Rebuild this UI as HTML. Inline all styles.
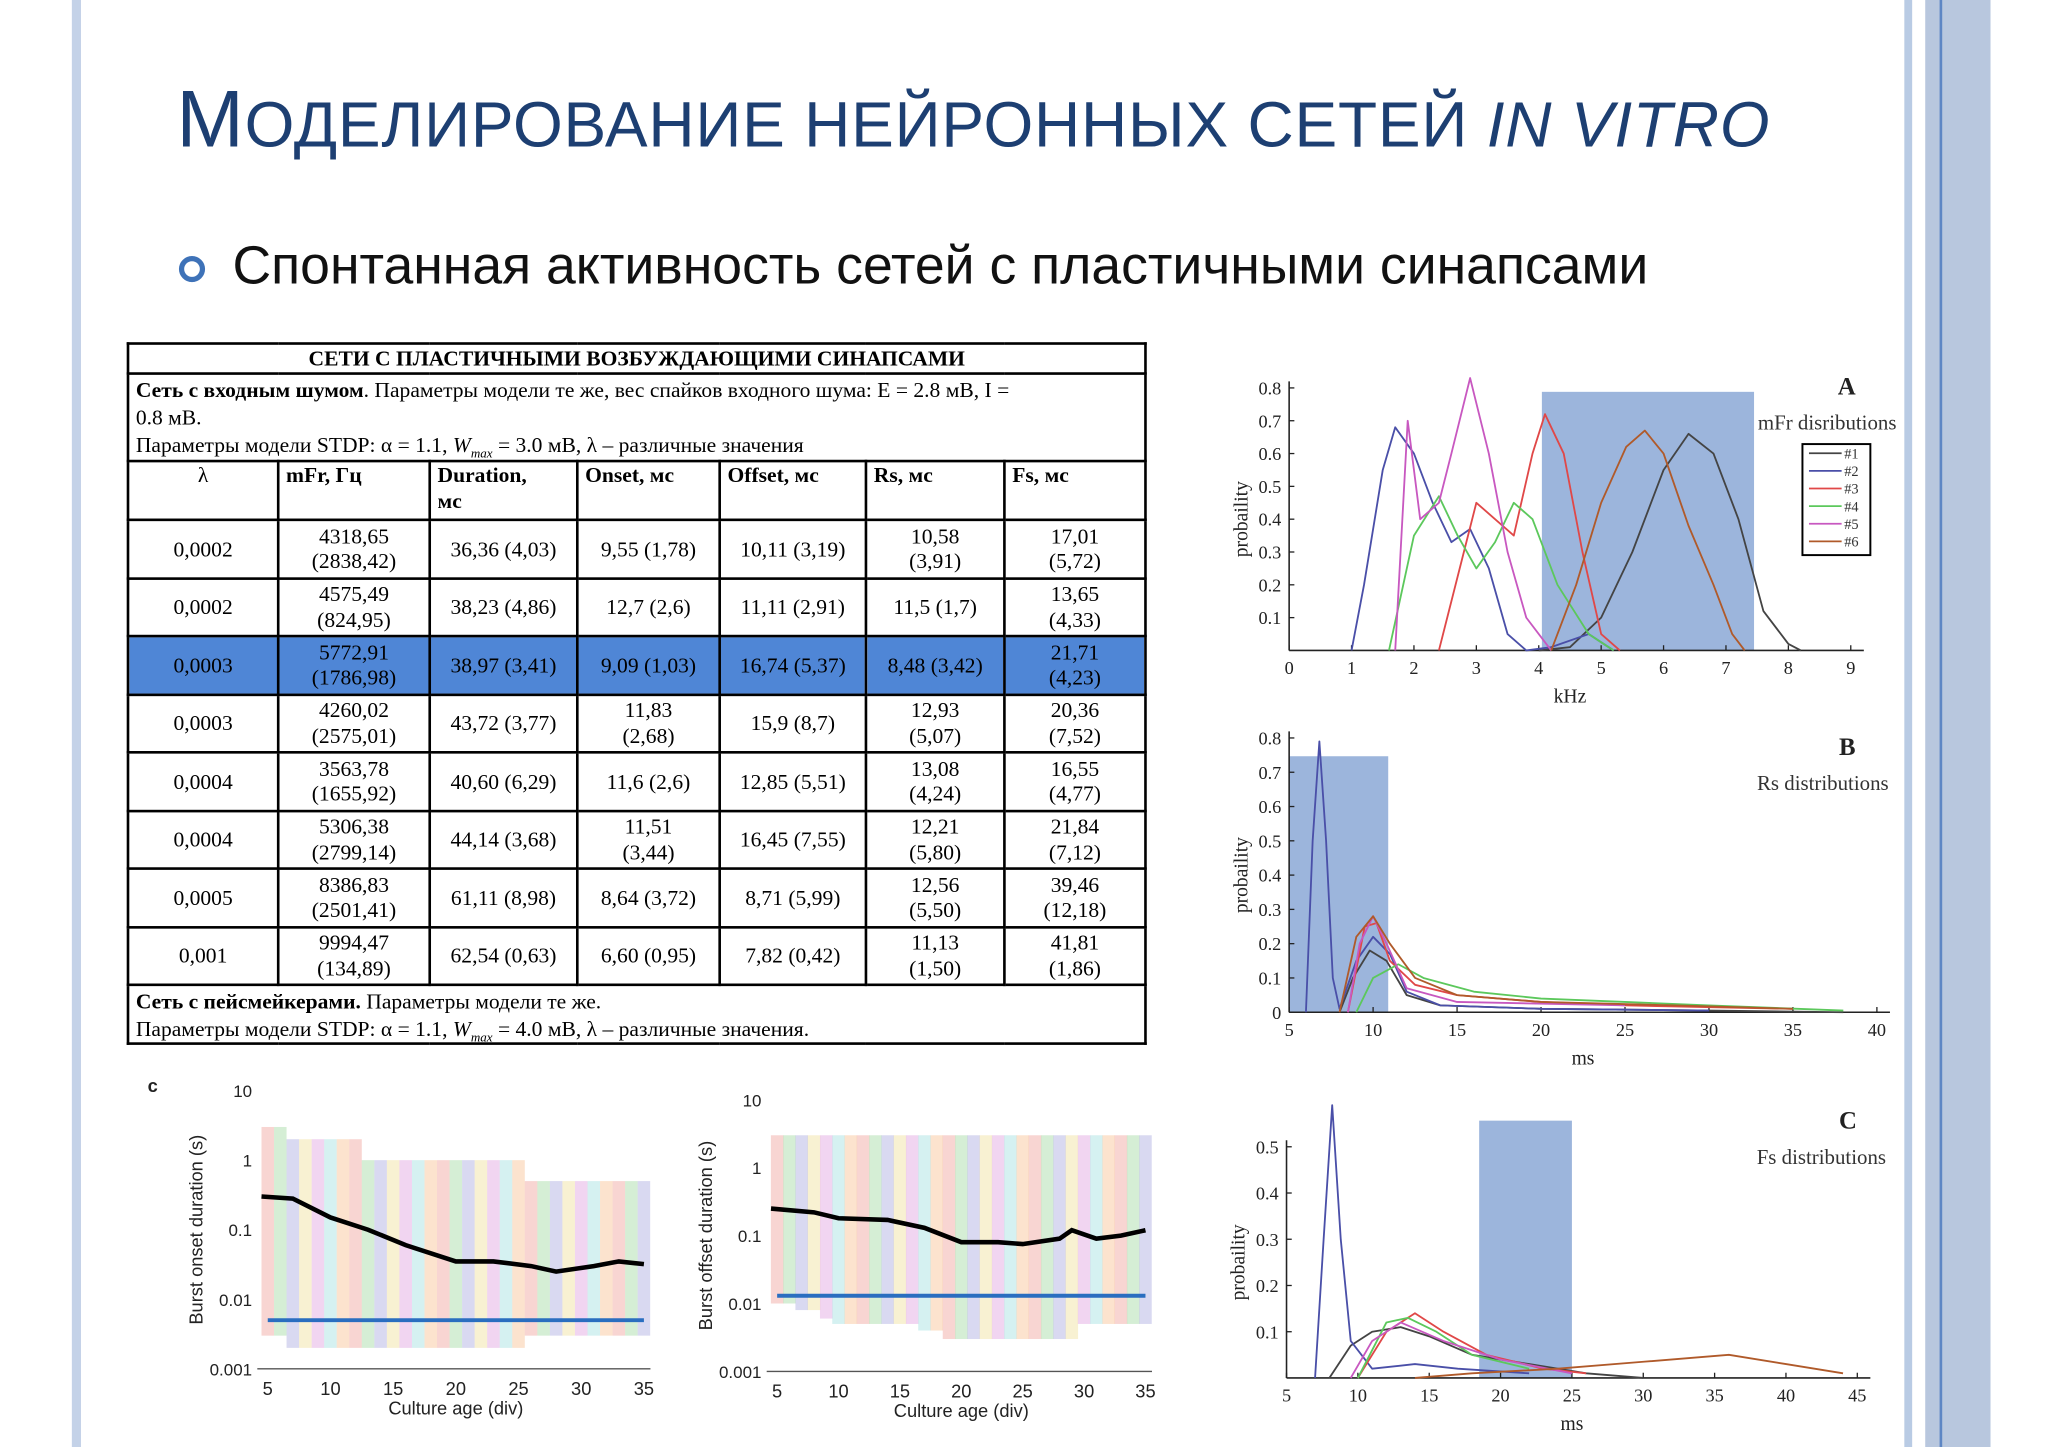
<!DOCTYPE html>
<html><head><meta charset="utf-8"><style>
html,body{margin:0;padding:0;background:#fff;overflow:hidden}
#wrap{position:absolute;left:0;top:0;width:1568px;height:1108px;transform:scale(1.30612);transform-origin:0 0;font-family:"Liberation Sans",sans-serif}
.abs{position:absolute}
table{border-collapse:collapse;table-layout:fixed;font-family:"Liberation Serif",serif;font-size:16.5px;line-height:19.5px}
td{border:2px solid #000;padding:0 5px;vertical-align:middle;overflow:hidden}
</style></head><body>
<div id="wrap">
<div class="abs" style="left:55px;top:0;width:7px;height:1108px;background:#c4d2e8"></div>
<div class="abs" style="left:1458px;top:0;width:6px;height:1108px;background:#b9cbe4"></div>
<div class="abs" style="left:1474px;top:0;width:50px;height:1108px;background:#b8c7de"></div>
<div class="abs" style="left:1485px;top:0;width:2px;height:1108px;background:#5d86c4"></div>
<div class="abs" style="left:135px;top:56px;font-size:62px;color:#1d3f72;white-space:nowrap;letter-spacing:0.6px">М<span style="font-size:49px">ОДЕЛИРОВАНИЕ НЕЙРОННЫХ СЕТЕЙ <i>IN VITRO</i></span></div>
<div class="abs" style="left:137px;top:196px;width:12px;height:12px;border:4px solid #3e72b8;border-radius:50%"></div>
<div class="abs" style="left:178px;top:180px;font-size:41px;color:#111;white-space:nowrap">Спонтанная активность сетей с пластичными синапсами</div>

<table class="abs" style="left:97px;top:262px;width:781px">
<colgroup><col style="width:115px"><col style="width:116px"><col style="width:113px"><col style="width:109px"><col style="width:112px"><col style="width:106px"><col></colgroup>
<tr style="height:23px"><td colspan="7" style="text-align:center;font-weight:bold;line-height:19px">СЕТИ С ПЛАСТИЧНЫМИ ВОЗБУЖДАЮЩИМИ СИНАПСАМИ</td></tr>
<tr style="height:67px"><td colspan="7" style="vertical-align:top;padding-top:1px;white-space:nowrap;line-height:21px"><b>Сеть с входным шумом</b>. Параметры модели те же, вес спайков входного шума: E = 2.8 мВ, I =<br>0.8 мВ.<br>Параметры модели STDP: α = 1.1, <i>W<sub style="font-size:10px;line-height:0">max</sub></i> = 3.0 мВ, λ – различные значения</td></tr>
<tr style="height:45px;font-weight:bold"><td style="text-align:center;vertical-align:top;font-weight:normal">λ</td><td style="vertical-align:top">mFr, Гц</td><td style="vertical-align:top">Duration,<br>мс</td><td style="vertical-align:top">Onset, мс</td><td style="vertical-align:top">Offset, мс</td><td style="vertical-align:top">Rs, мс</td><td style="vertical-align:top">Fs, мс</td></tr>
<tbody id="tb"></tbody>
<tr style="height:45px"><td colspan="7" style="white-space:nowrap;line-height:21px"><b>Сеть с пейсмейкерами.</b> Параметры модели те же.<br>Параметры модели STDP: α = 1.1, <i>W<sub style="font-size:10px;line-height:0">max</sub></i> = 4.0 мВ, λ – различные значения.</td></tr>
</table>

<svg class="abs" id="charts" style="left:0;top:0" width="1568" height="1108" font-family="Liberation Serif, serif"></svg>
</div>
<script>
const rows=[["0,0002","4318,65|(2838,42)","36,36 (4,03)","9,55 (1,78)","10,11 (3,19)","10,58|(3,91)","17,01|(5,72)"],
["0,0002","4575,49|(824,95)","38,23 (4,86)","12,7 (2,6)","11,11 (2,91)","11,5 (1,7)","13,65|(4,33)"],
["0,0003","5772,91|(1786,98)","38,97 (3,41)","9,09 (1,03)","16,74 (5,37)","8,48 (3,42)","21,71|(4,23)"],
["0,0003","4260,02|(2575,01)","43,72 (3,77)","11,83|(2,68)","15,9 (8,7)","12,93|(5,07)","20,36|(7,52)"],
["0,0004","3563,78|(1655,92)","40,60 (6,29)","11,6 (2,6)","12,85 (5,51)","13,08|(4,24)","16,55|(4,77)"],
["0,0004","5306,38|(2799,14)","44,14 (3,68)","11,51|(3,44)","16,45 (7,55)","12,21|(5,80)","21,84|(7,12)"],
["0,0005","8386,83|(2501,41)","61,11 (8,98)","8,64 (3,72)","8,71 (5,99)","12,56|(5,50)","39,46|(12,18)"],
["0,001","9994,47|(134,89)","62,54 (0,63)","6,60 (0,95)","7,82 (0,42)","11,13|(1,50)","41,81|(1,86)"]];
const tb=document.getElementById('tb');
rows.forEach((r,i)=>{const tr=document.createElement('tr');tr.style.height='44.5px';


if(i==2)tr.style.background='#4f86d6';
r.forEach(c=>{const td=document.createElement('td');td.style.whiteSpace='nowrap';
 c.split('|').forEach((p,k)=>{if(k)td.appendChild(document.createElement('br'));td.appendChild(document.createTextNode(p));});
 td.style.textAlign='center';tr.appendChild(td);});tb.appendChild(tr);});

const NS='http://www.w3.org/2000/svg',svg=document.getElementById('charts');
function el(t,a,txt){const e=document.createElementNS(NS,t);for(const k in a)e.setAttribute(k,a[k]);if(txt!==undefined)e.textContent=txt;svg.appendChild(e);return e;}
const colors=["#444444","#4a4fa8","#e04848","#5cc85c","#c858c0","#b05a2a"];
const aSeries=[
[[4,0],[4.5,0.01],[5,0.1],[5.5,0.3],[6,0.55],[6.4,0.66],[6.8,0.6],[7.2,0.4],[7.6,0.12],[8,0.02],[8.2,0]],
[[1,0],[1.2,0.2],[1.5,0.55],[1.7,0.68],[2,0.6],[2.3,0.45],[2.6,0.33],[2.9,0.37],[3.2,0.25],[3.5,0.05],[3.8,0],[4.2,0.01],[4.8,0.05],[5.2,0]],
[[2.4,0],[2.8,0.3],[3,0.45],[3.3,0.4],[3.6,0.35],[3.9,0.6],[4.1,0.72],[4.4,0.6],[4.7,0.3],[5,0.05],[5.3,0]],
[[1.6,0],[2,0.35],[2.4,0.47],[2.7,0.35],[3,0.25],[3.3,0.33],[3.6,0.45],[3.9,0.4],[4.3,0.2],[4.8,0.05],[5.2,0]],
[[1.7,0],[1.9,0.7],[2.1,0.4],[2.4,0.45],[2.6,0.6],[2.9,0.83],[3.2,0.6],[3.5,0.3],[3.8,0.1],[4.2,0]],
[[4.2,0],[4.6,0.2],[5,0.45],[5.4,0.62],[5.7,0.67],[6,0.6],[6.4,0.38],[6.8,0.2],[7.1,0.05],[7.3,0]]];
const bSeries=[
[[8,0],[8.8,0.1],[9.8,0.18],[10.8,0.15],[12,0.05],[14,0.02],[20,0.01],[30,0.005],[38,0]],
[[6,0],[6.4,0.5],[6.8,0.79],[7.2,0.5],[7.6,0.1],[8,0.01],[9,0.15],[10,0.22],[11,0.17],[12,0.06],[14,0.02],[20,0.01],[30,0.005]],
[[8.5,0],[9.5,0.25],[10.2,0.26],[11,0.15],[12.5,0.08],[15,0.05],[20,0.03],[25,0.02],[35,0.01]],
[[9,0],[10,0.1],[11.5,0.14],[13,0.1],[16,0.06],[20,0.04],[25,0.03],[30,0.02],[38,0.005]],
[[8.5,0],[9.2,0.2],[10,0.28],[10.8,0.2],[12,0.07],[15,0.03],[25,0.02]],
[[8,0],[9,0.22],[10,0.28],[11,0.2],[12.5,0.1],[15,0.05],[20,0.03],[28,0.02],[35,0.01]]];
const cSeries=[
[[8,0],[9.5,0.07],[11,0.1],[13,0.11],[15,0.09],[18,0.05],[22,0.03],[26,0.01],[30,0]],
[[7,0],[7.6,0.3],[8.2,0.59],[8.8,0.3],[9.5,0.08],[11,0.02],[14,0.03],[17,0.02],[22,0.01]],
[[10,0],[12,0.1],[14,0.14],[16,0.1],[19,0.05],[23,0.02],[26,0.01]],
[[10,0],[12,0.12],[13.5,0.13],[15.5,0.1],[18,0.05],[22,0.02]],
[[9.5,0],[11,0.08],[13,0.12],[16,0.08],[20,0.04],[25,0.01]],
[[14,0],[18,0.01],[24,0.02],[30,0.035],[36,0.05],[40,0.03],[44,0.01]]];
function chart(c){
 const X=v=>c.x0+(v-c.xmin)/(c.xmax-c.xmin)*(c.x1-c.x0), Y=v=>c.y0-(v-c.ymin)/(c.ymax-c.ymin)*(c.y0-c.y1);
 const r=el('rect',{x:X(c.rect[0]),y:c.rectTop,width:X(c.rect[1])-X(c.rect[0]),height:c.y0-c.rectTop,fill:'#9cb5dc'});
 
 
 el('line',{x1:c.x0,y1:c.y0,x2:c.x1+10,y2:c.y0,stroke:'#222','stroke-width':1.2});
 el('line',{x1:c.x0,y1:c.y0,x2:c.x0,y2:c.y1-5,stroke:'#222','stroke-width':1.2});
 c.xt.forEach(v=>{el('line',{x1:X(v),y1:c.y0,x2:X(v),y2:c.y0-4,stroke:'#222'});el('text',{x:X(v),y:c.y0+18,'font-size':14,'text-anchor':'middle',fill:'#222'},v);});
 c.yt.forEach(v=>{el('line',{x1:c.x0,y1:Y(v),x2:c.x0+4,y2:Y(v),stroke:'#222'});el('text',{x:c.x0-6,y:Y(v)+5,'font-size':14,'text-anchor':'end',fill:'#222'},v);});
 c.series.forEach((s,i)=>{const p=el('polyline',{points:s.map(d=>X(d[0])+','+Y(d[1])).join(' '),fill:'none',stroke:colors[i],'stroke-width':1.4,'stroke-linejoin':'round'});
  
  });
 el('text',{x:(c.x0+c.x1)/2,y:c.y0+40,'font-size':15,'text-anchor':'middle',fill:'#222'},c.xl);
 el('text',{x:0,y:0,'font-size':15,'text-anchor':'middle',fill:'#222',transform:`translate(${c.x0-32},${(c.y0+c.y1)/2}) rotate(-90)`},'probaility');
 el('text',{x:c.lx,y:c.ly,'font-size':19,'font-weight':'bold',fill:'#222'},c.letter);
 el('text',{x:c.tx,y:c.ly+27,'font-size':16,'text-anchor':'end',fill:'#333'},c.title);
 return X;
}
chart({name:'mfr-chart',x0:987,x1:1417,xmin:0,xmax:9,y0:498,y1:297,ymin:0,ymax:0.8,rect:[4.05,7.45],rectTop:300,xt:[0,1,2,3,4,5,6,7,8,9],yt:[0.1,0.2,0.3,0.4,0.5,0.6,0.7,0.8],series:aSeries,xl:'kHz',letter:'A',lx:1407,ly:302,tx:1452,title:'mFr disributions'});
chart({name:'rs-chart',x0:987,x1:1437,xmin:5,xmax:40,y0:775,y1:565,ymin:0,ymax:0.8,rect:[5,10.9],rectTop:579,xt:[5,10,15,20,25,30,35,40],yt:[0,0.1,0.2,0.3,0.4,0.5,0.6,0.7,0.8],series:bSeries,xl:'ms',letter:'B',lx:1408,ly:578,tx:1446,title:'Rs distributions'});
chart({name:'fs-chart',x0:985,x1:1422,xmin:5,xmax:45,y0:1055,y1:878,ymin:0,ymax:0.5,rect:[18.5,25.0],rectTop:858,xt:[5,10,15,20,25,30,35,40,45],yt:[0.1,0.2,0.3,0.4,0.5],series:cSeries,xl:'ms',letter:'C',lx:1408,ly:864,tx:1444,title:'Fs distributions'});
el('rect',{x:1380,y:340,width:52,height:85,fill:'#fff',stroke:'#000','stroke-width':1.5});
colors.forEach((c,i)=>{el('line',{x1:1385,y1:347+i*13.5,x2:1410,y2:347+i*13.5,stroke:c,'stroke-width':1.3});el('text',{x:1412,y:351+i*13.5,'font-size':11,fill:'#333'},'#'+(i+1));});

const ages=[5,6,7,8,9,10,11,12,13,14,15,16,17,18,19,20,21,22,23,24,25,26,27,28,29,30,31,32,33,34,35];
const onsetLo=[0.003,0.003,0.002,0.002,0.002,0.002,0.002,0.002,0.002,0.002,0.002,0.002,0.002,0.002,0.002,0.002,0.002,0.002,0.002,0.002,0.002,0.003,0.003,0.003,0.003,0.003,0.003,0.003,0.003,0.003,0.003];
const onsetHi=[3,3,2,2,2,2,2,2,1,1,1,1,1,1,1,1,1,1,1,1,1,0.5,0.5,0.5,0.5,0.5,0.5,0.5,0.5,0.5,0.5];
const offsetLo=[0.01,0.01,0.008,0.008,0.006,0.005,0.005,0.005,0.005,0.005,0.005,0.005,0.004,0.004,0.003,0.003,0.003,0.003,0.003,0.003,0.003,0.003,0.003,0.003,0.003,0.005,0.005,0.005,0.005,0.005,0.005];
const offsetHi=[3,3,3,3,3,3,3,3,3,3,3,3,3,3,3,3,3,3,3,3,3,3,3,3,3,3,3,3,3,3,3];
const onsetTrendAge=[4.5,7,10,13,16,20,23,26,28,31,33,35];
const onsetTrend=[0.3,0.28,0.15,0.1,0.06,0.035,0.035,0.03,0.025,0.03,0.035,0.032];
const offsetTrendAge=[4.5,8,10,14,17,20,23,25,28,29,31,33,35];
const offsetTrend=[0.25,0.22,0.18,0.17,0.13,0.08,0.08,0.075,0.09,0.12,0.09,0.1,0.12];
const bandColors=["#e04030","#40b040","#5050c0","#e0c030","#c040c0","#40c0c0","#f08020"];
function scatter(c){
 const X=v=>c.x0+(v-5)/30*(c.x1-c.x0), Y=v=>c.y10+(1-Math.log10(v))*(c.y001-c.y10)/4;
 c.lo.forEach((lo,i)=>{const b=el('rect',{x:X(ages[i])-4.8,y:Y(c.hi[i]),width:9.6,height:Y(lo)-Y(c.hi[i]),fill:bandColors[i%7],opacity:0.22});
  
  });
 const p=el('polyline',{points:c.tA.map((a,i)=>X(a)+','+Y(c.t[i])).join(' '),fill:'none',stroke:'#000','stroke-width':3.5});
 
 
 el('line',{x1:X(5),x2:X(35),y1:Y(c.ref),y2:Y(c.ref),stroke:'#2a6ec0','stroke-width':3});
 el('line',{x1:c.x0-8,y1:c.y001,x2:c.x1+5,y2:c.y001,stroke:'#555'});
 [5,10,15,20,25,30,35].forEach(v=>el('text',{x:X(v),y:c.y001+20,'font-size':14,'text-anchor':'middle','font-family':'Liberation Sans, sans-serif',fill:'#222'},v));
 [[10,'10'],[1,'1'],[0.1,'0.1'],[0.01,'0.01'],[0.001,'0.001']].forEach(t=>el('text',{x:c.x0-12,y:Y(t[0])+5,'font-size':13,'text-anchor':'end','font-family':'Liberation Sans, sans-serif',fill:'#222'},t[1]));
 el('text',{x:(c.x0+c.x1)/2,y:c.y001+35,'font-size':14,'text-anchor':'middle','font-family':'Liberation Sans, sans-serif',fill:'#222'},'Culture age (div)');
 el('text',{x:0,y:0,'font-size':14,'text-anchor':'middle','font-family':'Liberation Sans, sans-serif',fill:'#222',transform:`translate(${c.x0-50},${(c.y10+c.y001)/2}) rotate(-90)`},c.yl);
}
scatter({name:'onset-scatter',x0:205,x1:493,y10:835,y001:1048,lo:onsetLo,hi:onsetHi,tA:onsetTrendAge,t:onsetTrend,ref:0.005,yl:'Burst onset duration (s)'});
scatter({name:'offset-scatter',x0:595,x1:877,y10:842,y001:1050,lo:offsetLo,hi:offsetHi,tA:offsetTrendAge,t:offsetTrend,ref:0.013,yl:'Burst offset duration (s)'});
el('text',{x:113,y:836,'font-size':14,'font-weight':'bold','font-family':'Liberation Sans, sans-serif',fill:'#222'},'c');
</script>
</body></html>
